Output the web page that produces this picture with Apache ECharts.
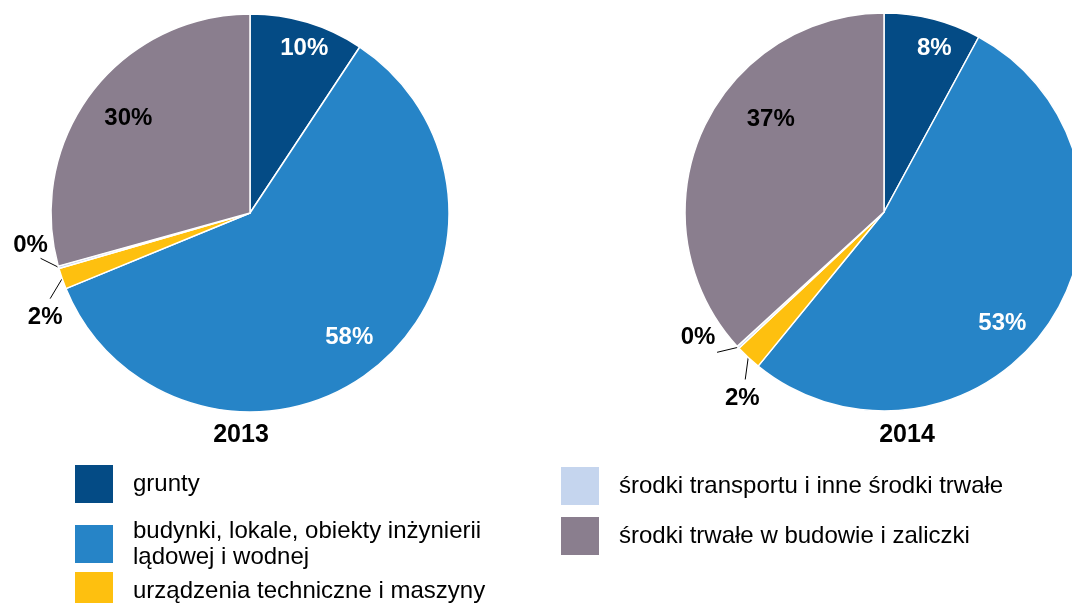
<!DOCTYPE html>
<html><head><meta charset="utf-8">
<script src="https://cdn.jsdelivr.net/npm/echarts@6/dist/echarts.min.js"></script>
<style>html,body{margin:0;padding:0;background:#fff}#c{width:1072px;height:603px}</style>
</head><body><div id="c"></div>
<script>
const categories = ['grunty', 'budynki, lokale, obiekty inżynierii\nlądowej i wodnej', 'urządzenia techniczne i maszyny', 'środki transportu i inne środki trwałe', 'środki trwałe w budowie i zaliczki'];
const years = ['2013', '2014'];
const values2013 = [9.3, 59.5, 1.7, 0.2, 29.3];
const labels2013 = ['10%', '58%', '2%', '0%', '30%'];
const values2014 = [7.9, 53.0, 2.1, 0.2, 36.8];
const labels2014 = ['8%', '53%', '2%', '0%', '37%'];

// ---- styling / layout (not data) ----
const colors = ['#044B85', '#2684C7', '#FEC00F', '#C5D5EE', '#8A7E8E'];
const insideColors = ['#fff', '#fff', '#000', '#000', '#000'];
const FONT = 'Liberation Sans, Arial, sans-serif';
const R = 199;
// leader geometry for small slices, relative to the slice's edge anchor: [lineEndDx, lineEndDy, labelDx, labelDy]
const leaders = [
  { 2: [-12, 20, -17, 39], 3: [-18, -9, -28, -22] },
  { 2: [-3, 22, -6, 41], 3: [-21, 5, -40, -10] }
];
// small nudges of inside labels: [dx, dy]
const insideNudge = [
  { 0: [7, -7], 1: [-5, -2], 4: [9, 5] },
  { 0: [10, -4], 1: [-18, 20], 4: [37, -26] }
];
const legendPos = [[75, 465], [75, 518], [75, 572], [561, 467], [561, 517]];

function mainData(vals, outside) {
  return vals.map((v, i) => ({
    name: categories[i], value: v,
    label: { show: outside ? v < 5 : v >= 5, color: outside ? '#000' : insideColors[i] },
    labelLine: { show: outside && v < 5 }
  }));
}
function pies(k, center, vals, labs) {
  return [
    {
      type: 'pie', center: center, radius: [0, R], startAngle: 90, clockwise: true,
      animation: false, avoidLabelOverlap: false,
      itemStyle: { borderColor: '#fff', borderWidth: 1.5 },
      label: { position: 'outside', fontFamily: FONT, fontWeight: 'bold', fontSize: 24, overflow: 'none',
        formatter: p => labs[p.dataIndex] },
      labelLine: { length: 10, length2: 0, lineStyle: { color: '#000', width: 1 } },
      labelLayout: function (p) {
        const L = leaders[k][p.dataIndex];
        if (!L || !p.labelLinePoints) return {};
        const a = p.labelLinePoints[0];
        const e = [a[0] + L[0], a[1] + L[1]];
        return { x: a[0] + L[2], y: a[1] + L[3], align: 'center', verticalAlign: 'middle',
          labelLinePoints: [a, e, e] };
      },
      emphasis: { disabled: true },
      data: mainData(vals, true)
    },
    {
      type: 'pie', center: center, radius: [R * 0.62, R], startAngle: 90, clockwise: true,
      animation: false, silent: true,
      itemStyle: { color: 'transparent', borderWidth: 0 },
      label: { position: 'inside', fontFamily: FONT, fontWeight: 'bold', fontSize: 24,
        formatter: p => labs[p.dataIndex] },
      labelLine: { show: false },
      labelLayout: function (p) {
        const n = insideNudge[k][p.dataIndex];
        return n ? { dx: n[0], dy: n[1] } : {};
      },
      emphasis: { disabled: true },
      data: mainData(vals, false)
    }
  ];
}

const chart = echarts.init(document.getElementById('c'), null, { renderer: 'canvas' });
const legendText = { fontFamily: FONT, fontSize: 24, color: '#000', lineHeight: 26, padding: [0, 0, 0, 15] };
chart.setOption({
  color: colors,
  animation: false,
  title: years.map((y, i) => ({
    text: y, left: [241, 907][i], top: 423, textAlign: 'center', padding: 0,
    textStyle: { fontFamily: FONT, fontWeight: 'bold', fontSize: 25, color: '#000' }
  })),
  legend: categories.map((c, i) => ({
    orient: 'vertical', left: legendPos[i][0], top: legendPos[i][1], padding: 0,
    itemWidth: 38, itemHeight: 38, icon: 'rect', selectedMode: false,
    itemStyle: { borderWidth: 0 },
    textStyle: legendText, data: [c]
  })),
  series: [].concat(pies(0, [250, 213], values2013, labels2013), pies(1, [884, 212], values2014, labels2014))
});
</script></body></html>
